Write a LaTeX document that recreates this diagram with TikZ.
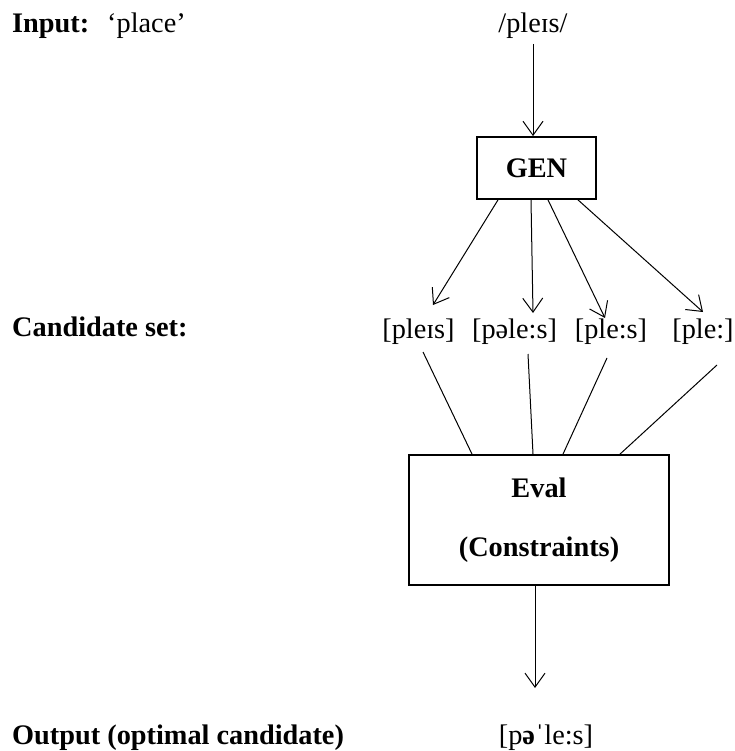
\documentclass[tikz,border=0pt]{standalone}
\usepackage{fontspec}
\setmainfont{Liberation Serif}
\usepackage{tikz}
\usetikzlibrary{arrows.meta, positioning}
\tikzset{
  box/.style={rectangle, draw=black, line width=1.8pt, align=center},
  lbl/.style={inner sep=0pt, anchor=base west},
  cand/.style={inner sep=0pt, anchor=base},
  arrow/.style={-{Straight Barb[length=14pt, width=20pt]}, line width=1pt},
  line/.style={line width=1pt}
}

\begin{document}
\begin{tikzpicture}[x=1pt, y=-1pt, font=\fontsize{28.3}{34}\selectfont]
  \useasboundingbox (0,0) rectangle (734,751);

  % Row labels
  \node[lbl] (lblin) at (12,33) {\textbf{Input:}};
  \node[lbl] (lblplace) at (107,33) {‘place’};
  \node[lbl] (lblcand) at (12,336) {\textbf{Candidate set:}};
  \node[lbl] (lblout) at (12,744) {\textbf{Output (optimal candidate)}};

  % Nodes
  \node[cand] (input) at (533,33) {/pleɪs/};
  \node[box, minimum width=119pt, minimum height=62pt] (gen) at (536.5,168) {\textbf{GEN}};
  \node[cand] (c1) at (418.5,338) {[pleɪs]};
  \node[cand] (c2) at (514.5,338) {[pəle:s]};
  \node[cand] (c3) at (611,338) {[ple:s]};
  \node[cand] (c4) at (703,338) {[ple:]};
  \node[box, minimum width=260pt, minimum height=130pt] (eval) at (539,520)
    {\textbf{Eval}\\[25pt]\textbf{(Constraints)}};
  \node[cand] (out) at (546,744) {[p\textbf{ə}ˈle:s]};

  % Connections
  \draw[arrow] ([yshift=-11pt]input.base) -- (input.base |- gen.north);
  \draw[arrow] ([xshift=-38.5pt]gen.south) -- ([xshift=14.5pt, yshift=33pt]c1.base);
  \draw[arrow] ([xshift=-5.5pt]gen.south) -- ([xshift=18.5pt, yshift=25pt]c2.base);
  \draw[arrow] ([xshift=11.5pt]gen.south) -- ([xshift=-6pt, yshift=20pt]c3.base);
  \draw[arrow] ([xshift=41.5pt]gen.south) -- ([yshift=26pt]c4.base);

  \draw[line] ([xshift=4.5pt, yshift=-14pt]c1.base) -- ([xshift=-67pt]eval.north);
  \draw[line] ([xshift=13.5pt, yshift=-16pt]c2.base) -- ([xshift=-6pt]eval.north);
  \draw[line] ([xshift=-4pt, yshift=-20pt]c3.base) -- ([xshift=24pt]eval.north);
  \draw[line] ([xshift=14pt, yshift=-27pt]c4.base) -- ([xshift=81pt]eval.north);

  \draw[arrow] ([xshift=-4pt]eval.south) -- ([xshift=-11pt, yshift=56pt]out.base);
\end{tikzpicture}
\end{document}
